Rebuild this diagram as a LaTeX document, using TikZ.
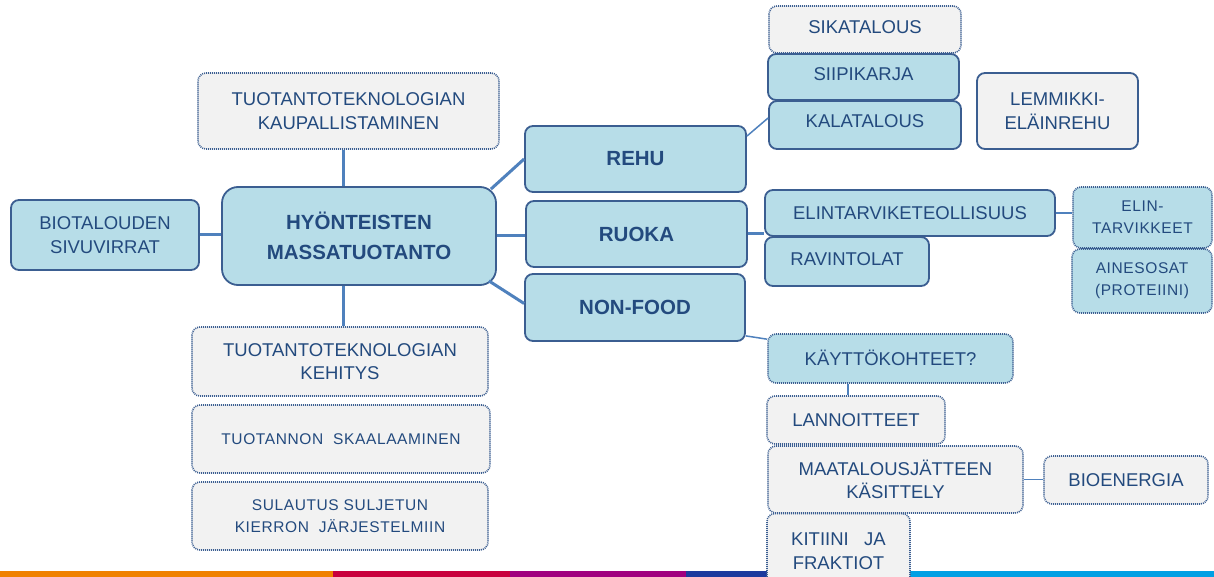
\documentclass[tikz,border=0pt]{standalone}
\usepackage{fontspec}
\setmainfont{Liberation Sans}
\newfontfamily\spacedfont[LetterSpace=4]{Liberation Sans}
\usetikzlibrary{calc}
\definecolor{lblue}{HTML}{B7DDE8}
\definecolor{lgrey}{HTML}{F2F2F2}
\definecolor{bord}{HTML}{3B5E91}
\definecolor{conncol}{HTML}{4F81BD}
\definecolor{txt}{HTML}{234A7E}
\definecolor{barA}{HTML}{F08100}
\definecolor{barB}{HTML}{C8003D}
\definecolor{barC}{HTML}{A0007F}
\definecolor{barD}{HTML}{1C3A9E}
\definecolor{barE}{HTML}{00A0E4}
\tikzset{
  base/.style={rounded corners=8pt, inner sep=0pt, align=center, text=txt,
    font=\fontsize{18.5}{23.5}\selectfont},
  bluesolid/.style={base, fill=lblue, draw=bord, line width=1.8pt},
  greysolid/.style={base, fill=lgrey, draw=bord, line width=1.8pt},
  bluedot/.style={base, fill=lblue, draw=bord, line width=1.6pt, dash pattern=on 1pt off 1pt},
  greydot/.style={base, fill=lgrey, draw=bord, line width=1.6pt, dash pattern=on 1pt off 1pt},
  smalltxt/.style={font=\spacedfont\fontsize{15.5}{22}\selectfont},
  boldtxt/.style={font=\bfseries\fontsize{20.5}{30}\selectfont},
  thick conn/.style={draw=conncol, line width=3pt},
  thin conn/.style={draw=conncol, line width=1.5pt},
  raised/.style={text depth=#1}
}
\begin{document}
\begin{tikzpicture}[x=1pt,y=-1pt]
\clip (0,0) rectangle (1214,577);
\useasboundingbox (0,0) rectangle (1214,577);
% colour bar at bottom
\fill[barA] (0,571) rectangle (333,577);
\fill[barB] (333,571) rectangle (510,577);
\fill[barC] (510,571) rectangle (686,577);
\fill[barD] (686,571) rectangle (860,577);
\fill[barE] (860,571) rectangle (1214,577);

% left part
\node[bluesolid, minimum width=188pt, minimum height=70pt] (bio) at (105,235) {BIOTALOUDEN\\SIVUVIRRAT};
\node[bluesolid, boldtxt, rounded corners=16pt, minimum width=274pt, minimum height=98pt] (main) at (359,236) {HYÖNTEISTEN\\MASSATUOTANTO};
\node[greydot, minimum width=301pt, minimum height=76pt] (kaup) at (348.5,111) {TUOTANTOTEKNOLOGIAN\\KAUPALLISTAMINEN};
\node[greydot, minimum width=296pt, minimum height=69pt] (keh) at (340,361.5) {TUOTANTOTEKNOLOGIAN\\KEHITYS};
\node[greydot, smalltxt, minimum width=298pt, minimum height=68pt] (skaal) at (341,439) {TUOTANNON\ \ SKAALAAMINEN};
\node[greydot, smalltxt, minimum width=296pt, minimum height=68pt] (sul) at (340,516) {SULAUTUS SULJETUN\\KIERRON\ \ JÄRJESTELMIIN};

% middle
\node[bluesolid, boldtxt, minimum width=221pt, minimum height=66pt] (rehu) at (635.5,159) {REHU};
\node[bluesolid, boldtxt, minimum width=221pt, minimum height=66pt] (ruoka) at (636.5,234) {RUOKA};
\node[bluesolid, boldtxt, minimum width=220pt, minimum height=67pt] (nonfood) at (635,307.5) {NON-FOOD};

% top right
\node[greydot, raised=4pt, minimum width=192pt, minimum height=47pt] (sika) at (865,29.5) {SIKATALOUS};
\node[bluesolid, raised=6pt, minimum width=191pt, minimum height=46pt] (siipi) at (863.5,77) {SIIPIKARJA};
\node[bluesolid, raised=8pt, minimum width=192pt, minimum height=48pt] (kala) at (865,125) {KALATALOUS};
\node[greysolid, minimum width=161pt, minimum height=76pt] (lemmi) at (1057.5,111) {LEMMIKKI-\\ELÄINREHU};

% food
\node[bluesolid, minimum width=290pt, minimum height=46pt] (elint) at (910,213) {ELINTARVIKETEOLLISUUS};
\node[bluesolid, raised=4pt, minimum width=164pt, minimum height=49pt] (ravin) at (847,261.5) {RAVINTOLAT};
\node[bluedot, smalltxt, minimum width=139pt, minimum height=61pt] (etarv) at (1142.5,217.5) {ELIN-\\TARVIKKEET};
\node[bluedot, smalltxt, minimum width=140pt, minimum height=64pt] (aines) at (1142,281) {AINESOSAT\\(PROTEIINI)};

% non-food
\node[bluedot, raised=2pt, minimum width=245pt, minimum height=49pt] (kaytto) at (890.5,358.5) {KÄYTTÖKOHTEET?};
\node[greydot, minimum width=178pt, minimum height=48pt] (lann) at (856,420) {LANNOITTEET};
\node[greydot, minimum width=255pt, minimum height=67pt] (maat) at (895.5,479.5) {MAATALOUSJÄTTEEN\\KÄSITTELY};
\node[greydot, minimum width=164pt, minimum height=48pt] (bioen) at (1126,480) {BIOENERGIA};
\node[greydot, minimum width=143pt, minimum height=75pt] (kitiini) at (838.5,551) {KITIINI\ \ \ JA\\FRAKTIOT};

% connectors
\coordinate (vx) at (343,0);
\coordinate (vk) at (848,0);
\draw[thick conn] (kaup.south -| vx) -- (main.north -| vx);
\draw[thick conn] (main.south -| vx) -- (keh.north -| vx);
\draw[thick conn] (bio.east) -- (bio.east -| main.west);
\draw[thick conn] ($(main.north east)+(-6,3)$) -- (rehu.west);
\draw[thick conn] (main.east) -- (main.east -| ruoka.west);
\draw[thick conn] ($(main.south east)+(-8,-5)$) -- ($(nonfood.west)+(0,-4)$);
\draw[thin conn] ($(rehu.north east)+(0,11)$) -- ($(kala.west)+(0,-7)$);
\draw[thick conn] (ruoka.east) -- (ruoka.east -| elint.west);
\draw[thin conn] (elint.east) -- (elint.east -| etarv.west);
\draw[thin conn] ($(nonfood.south east)+(0,-6)$) -- ($(kaytto.north west)+(0,6)$);
\draw[thin conn] (kaytto.south -| vk) -- (lann.north -| vk);
\draw[thin conn] (maat.east) -- (maat.east -| bioen.west);
\end{tikzpicture}
\end{document}
